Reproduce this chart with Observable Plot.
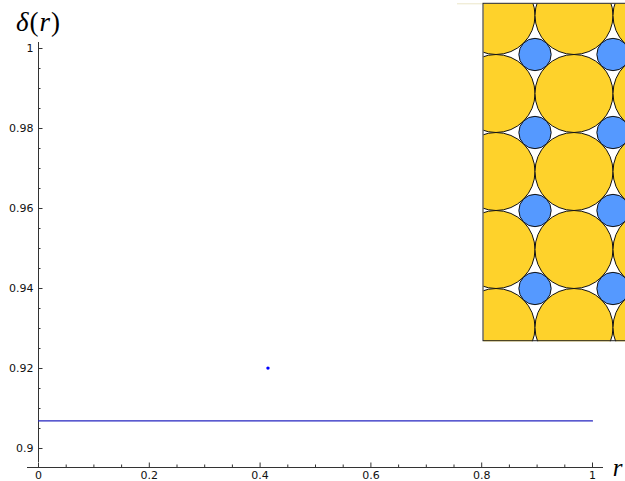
<!DOCTYPE html>
<html><head><meta charset="utf-8">
<script src="https://cdn.jsdelivr.net/npm/d3@7"></script>
<script src="https://cdn.jsdelivr.net/npm/@observablehq/plot@0.6"></script>
<style>body{margin:0;background:#fff} svg{display:block}</style>
</head><body><div id="chart"></div>
<script>
// ---- data ----
const xMajorTicks = [0, 0.2, 0.4, 0.6, 0.8, 1];
const xTickLabels = ["0", "0.2", "0.4", "0.6", "0.8", "1"];
const xMinorTicks = [0.05, 0.1, 0.15, 0.25, 0.3, 0.35, 0.45, 0.5, 0.55, 0.65, 0.7, 0.75, 0.85, 0.9, 0.95];
const yMajorTicks = [0.9, 0.92, 0.94, 0.96, 0.98, 1];
const yTickLabels = ["0.9", "0.92", "0.94", "0.96", "0.98", "1"];
const yMinorTicks = [0.905, 0.91, 0.915, 0.925, 0.93, 0.935, 0.945, 0.95, 0.955, 0.965, 0.97, 0.975, 0.985, 0.99, 0.995];
const hexR = [0, 1];
const hexDensity = [0.9069, 0.9069];
const pointR = [0.4142];
const pointDensity = [0.9201];
// inset packing: lattice indices (units of large-circle diameter)
const bigCols = [0, 1, 2];
const bigRows = [0, 1, 2, 3, 4];
const smallCols = [0.5, 1.5];
const smallRows = [0.5, 1.5, 2.5, 3.5];
const radiusRatio = 0.4142;

// ---- layout ----
const W = 625, H = 481;
const mL = 38, mR = 33, mT = 48, mB = 33;
const pxX = (W - mL - mR);           // px per x unit
const pxY = (H - mT - mB) / 0.1;      // px per y unit
const axisY = 0.9 - 19 / pxY;         // x-axis baseline value
const bigRpx = 39;
const cell = 78;                      // lattice spacing in px
const insetOrigin = {x: (495.5 - mL) / pxX, y: 1 + (mT - 15) / pxY};
const lx = i => insetOrigin.x + i * cell / pxX;
const ly = j => insetOrigin.y - j * cell / pxY;
const insetBox = {x1: (483 - mL) / pxX, x2: (640 - mL) / pxX, y1: 1 + (mT - 3.3) / pxY, y2: 1 - (340.7 - mT) / pxY};

const hexLine = hexR.map((r, i) => ({r, d: hexDensity[i]}));
const pts = pointR.map((r, i) => ({r, d: pointDensity[i]}));
const bigCircles = bigCols.flatMap(i => bigRows.map(j => ({x: lx(i), y: ly(j)})));
const smallCircles = smallCols.flatMap(i => smallRows.map(j => ({x: lx(i), y: ly(j)})));
const xLab = xMajorTicks.map((v, i) => ({v, label: xTickLabels[i]}));
const yLab = yMajorTicks.map((v, i) => ({v, label: yTickLabels[i]}));

const BIG_FILL = "#fed22b", SMALL_FILL = "#5599ff";
const axisColor = "#333";
const plot = Plot.plot({
  width: W, height: H,
  marginLeft: mL, marginRight: mR, marginTop: mT, marginBottom: mB,
  x: {domain: [0, 1], axis: null},
  y: {domain: [0.9, 1], axis: null},
  style: {fontFamily: "DejaVu Sans, sans-serif", fontSize: "11px", background: "#fff", overflow: "hidden"},
  marks: [
    // inset background
    Plot.rect([insetBox], {x1: "x1", x2: "x2", y1: "y1", y2: "y2", fill: "#fff"}),
    Plot.ruleY([insetBox], {y: "y1", x1: (457 - mL) / pxX, x2: insetBox.x1, stroke: "#ece6c8", strokeWidth: 1}),
    Plot.dot(bigCircles, {x: "x", y: "y", r: bigRpx, fill: BIG_FILL, stroke: "#111", strokeWidth: 1}),
    Plot.dot(smallCircles, {x: "x", y: "y", r: bigRpx * radiusRatio, fill: SMALL_FILL, stroke: "#111", strokeWidth: 1}),
    Plot.rect([insetBox], {x1: "x1", x2: "x2", y1: "y1", y2: "y2", fill: "none", stroke: "#222", strokeWidth: 1}),
    // axes
    Plot.ruleY([axisY], {x1: -11 / pxX, x2: (603 - mL) / pxX, stroke: axisColor, strokeWidth: 1}),
    Plot.ruleX([0], {y1: 0.9 - 14 / pxY, y2: 1 + 6 / pxY, stroke: axisColor, strokeWidth: 1}),
    Plot.ruleX(xMajorTicks, {x: d => d, y1: axisY, y2: axisY + 4.5 / pxY, stroke: axisColor}),
    Plot.ruleX(xMinorTicks, {x: d => d, y1: axisY, y2: axisY + 2.5 / pxY, stroke: axisColor}),
    Plot.ruleY(yMajorTicks, {y: d => d, x1: 0, x2: 4.5 / pxX, stroke: axisColor}),
    Plot.ruleY(yMinorTicks, {y: d => d, x1: 0, x2: 2.5 / pxX, stroke: axisColor}),
    Plot.text(xLab, {x: "v", y: axisY, text: "label", dy: 8, fontSize: 11, fill: "#111"}),
    Plot.text(yLab, {x: 0, y: "v", text: "label", dx: -5, textAnchor: "end", fontSize: 11, fill: "#111"}),
    // data
    Plot.line(hexLine, {x: "r", y: "d", stroke: "#2424c0", strokeWidth: 1.2}),
    Plot.dot(pts, {x: "r", y: "d", r: 1.7, fill: "#0000ff", stroke: "none"}),
    // axis titles
    Plot.text(["δ(r)"], {frameAnchor: "top-left", dx: 0, dy: -26, textAnchor: "middle", lineAnchor: "middle", fontSize: 27, fontFamily: "Liberation Serif, serif", fill: "#000"}),
    Plot.text(["r"], {frameAnchor: "bottom-right", dx: 25, dy: 19, textAnchor: "middle", lineAnchor: "middle", fontSize: 25, fontFamily: "Liberation Serif, serif", fontStyle: "italic", fill: "#000"})
  ]
});

// clip inset circles to the inset box
const sx = plot.scale("x"), sy = plot.scale("y");
const svg = d3.select(plot);
const defs = svg.insert("defs", ":first-child");
defs.append("clipPath").attr("id", "insetclip").append("rect")
  .attr("x", sx.apply(insetBox.x1)).attr("y", sy.apply(insetBox.y1))
  .attr("width", sx.apply(insetBox.x2) - sx.apply(insetBox.x1))
  .attr("height", sy.apply(insetBox.y2) - sy.apply(insetBox.y1));
const insetFills = new Set([BIG_FILL, SMALL_FILL]);
svg.selectAll("circle").each(function() {
  let node = this;
  while (node && node !== plot) {
    const f = (node.getAttribute && node.getAttribute("fill") || "").toLowerCase();
    if (insetFills.has(f)) {
      // clip the whole mark group (the element that carries the fill, or its group)
      const g = node.tagName.toLowerCase() === "g" ? node : node.parentNode;
      g.setAttribute("clip-path", "url(#insetclip)");
      break;
    }
    node = node.parentNode;
  }
});
// italic variables, upright parentheses in δ(r)
svg.selectAll("text").each(function() {
  if (this.textContent !== "δ(r)") return;
  const t = d3.select(this);
  t.text(null).attr("letter-spacing", "1px");
  t.append("tspan").attr("font-style", "italic").text("δ");
  t.append("tspan").text("(");
  t.append("tspan").attr("font-style", "italic").text("r");
  t.append("tspan").text(")");
});
document.getElementById("chart").appendChild(plot);
</script>
</body></html>
